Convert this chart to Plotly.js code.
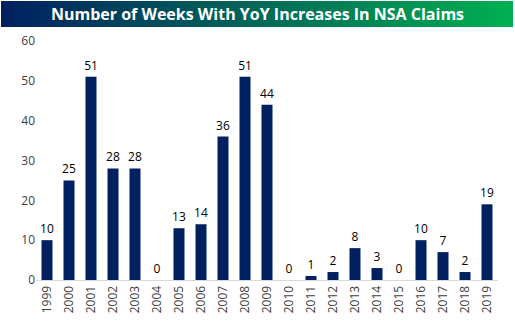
<!DOCTYPE html>
<html>
<head>
<meta charset="utf-8">
<script src="https://cdn.plot.ly/plotly-3.0.1.min.js"></script>
<style>
html,body{margin:0;padding:0;background:#fff;}
#wrap{position:relative;width:515px;height:328px;}
#banner{position:absolute;left:1px;top:1px;width:512px;height:26px;background:linear-gradient(to right,#002060,#00B050);z-index:0;}
#chart{position:absolute;left:0;top:0;width:515px;height:328px;z-index:1;}
</style>
</head>
<body>
<div id="wrap"><div id="banner"></div><div id="chart"></div></div>
<script>
const years = ["1999","2000","2001","2002","2003","2004","2005","2006","2007","2008","2009","2010","2011","2012","2013","2014","2015","2016","2017","2018","2019"];
const weeks = [10,25,51,28,28,0,13,14,36,51,44,0,1,2,8,3,0,10,7,2,19];
const titleText = "Number of Weeks With YoY Increases In NSA Claims";

Plotly.newPlot("chart", [{
  type: "bar",
  x: years,
  y: weeks,
  marker: {color: "#002060"},
  text: weeks.map(String),
  textposition: "outside",
  constraintext: "none",
  textfont: {family: "Open Sans, sans-serif", size: 12, color: "#000"},
  cliponaxis: false,
  hoverinfo: "skip"
}], {
  width: 515, height: 328,
  paper_bgcolor: "rgba(0,0,0,0)",
  plot_bgcolor: "rgba(0,0,0,0)",
  margin: {l: 36, r: 17, t: 41, b: 48},
  bargap: 0.5,
  showlegend: false,
  title: {text: "<b>" + titleText + "</b>", x: 0.5, xanchor: "center", xref: "container",
          y: 1 - 14/328, yref: "container", yanchor: "middle",
          font: {family: "Open Sans, sans-serif", size: 16, color: "#fff"}},
  xaxis: {type: "category", tickangle: -90, showgrid: false, showline: true, linecolor: "#d9d9d9", linewidth: 1,
          ticks: "", tickfont: {family: "Open Sans, sans-serif", size: 12, color: "#404040"}, fixedrange: true},
  yaxis: {range: [0, 60], dtick: 10, showgrid: false, zeroline: false, showline: false, ticks: "",
          tickfont: {family: "Open Sans, sans-serif", size: 12, color: "#404040"}, fixedrange: true}
}, {displayModeBar: false, staticPlot: true});
</script>
</body>
</html>
